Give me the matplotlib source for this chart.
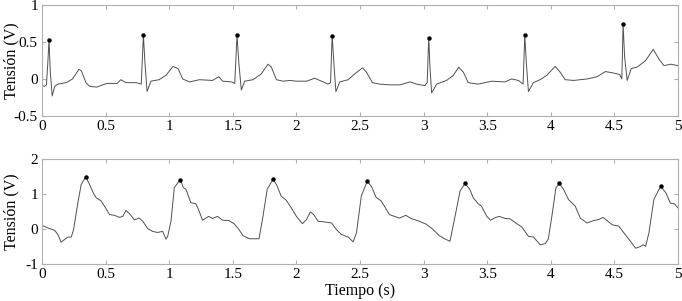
import matplotlib.pyplot as plt
import numpy as np

plt.rcParams['font.family'] = ['Liberation Serif', 'DejaVu Serif']
plt.rcParams['font.size'] = 11

# senal superior (ECG)
t_sup = [0.0, 0.02, 0.035, 0.045, 0.055, 0.065, 0.08, 0.1, 0.125, 0.19, 0.24, 0.29, 0.31, 0.345,
         0.375, 0.43, 0.51, 0.59, 0.62, 0.66, 0.685, 0.74, 0.78, 0.797, 0.81, 0.826,
         0.856, 0.92, 0.975, 1.03, 1.07, 1.106, 1.16, 1.238, 1.34, 1.39, 1.42, 1.49, 1.515,
         1.533, 1.548, 1.567, 1.593, 1.659, 1.724, 1.777, 1.803, 1.843, 1.895, 1.948, 2.0,
         2.079, 2.144, 2.184, 2.249, 2.268, 2.281, 2.295, 2.31, 2.341, 2.407, 2.459, 2.52,
         2.551, 2.598, 2.656, 2.735, 2.814, 2.892, 2.945, 3.01, 3.028, 3.04, 3.05, 3.063,
         3.102, 3.18, 3.234, 3.276, 3.313, 3.35, 3.429, 3.534, 3.639, 3.692, 3.745, 3.782,
         3.795, 3.808, 3.824, 3.863, 3.916, 3.968, 4.034, 4.074, 4.113, 4.179, 4.284, 4.363,
         4.429, 4.495, 4.542, 4.558, 4.568, 4.58, 4.6, 4.632, 4.679, 4.745, 4.805, 4.85,
         4.889, 4.942, 5.0]
v_sup = [-0.09, -0.1, -0.08, 0.2, 0.53, 0.1, -0.23, -0.1, -0.07, -0.05, 0.0, 0.13, 0.11, -0.05,
         -0.1, -0.11, -0.06, -0.06, -0.01, -0.05, -0.05, -0.05, -0.07, 0.59, 0.2, -0.17,
         -0.03, -0.01, 0.05, 0.17, 0.14, 0.0, -0.04, -0.01, -0.02, 0.03, -0.03, -0.04, -0.06,
         0.595, 0.2, -0.15, -0.03, -0.01, 0.07, 0.2, 0.16, -0.01, -0.03, -0.02, -0.03,
         -0.03, 0.01, -0.02, -0.07, -0.05, 0.586, 0.2, -0.17, -0.04, -0.01, 0.07, 0.15,
         0.09, -0.05, -0.07, -0.08, -0.08, -0.04, -0.07, -0.09, -0.05, 0.56, 0.15, -0.19,
         -0.07, -0.02, 0.05, 0.16, 0.09, -0.05, -0.07, -0.03, -0.04, 0.0, -0.02, -0.07,
         0.595, 0.2, -0.17, -0.05, -0.01, 0.05, 0.17, 0.09, -0.01, -0.02, 0.0, 0.03,
         0.1, 0.08, 0.06, 0.0, 0.745, 0.3, -0.02, 0.14, 0.16, 0.25, 0.4, 0.27,
         0.18, 0.2, 0.18]

t_sup_pico = [0.055, 0.797, 1.533, 2.281, 3.04, 3.795, 4.568]
v_sup_pico = [0.53, 0.59, 0.595, 0.586, 0.56, 0.595, 0.745]

# senal inferior
t_inf = [0.0, 0.06, 0.1, 0.125, 0.15, 0.178, 0.204, 0.23, 0.248, 0.282, 0.308, 0.342, 0.368,
         0.4, 0.426, 0.465, 0.5, 0.531, 0.57, 0.609, 0.635, 0.66, 0.687, 0.726, 0.765,
         0.792, 0.831, 0.87, 0.908, 0.948, 0.975, 0.988, 1.014, 1.04, 1.087, 1.111, 1.132,
         1.17, 1.209, 1.23, 1.262, 1.31, 1.34, 1.38, 1.419, 1.47, 1.51, 1.545, 1.579, 1.63,
         1.706, 1.737, 1.77, 1.816, 1.843, 1.88, 1.92, 1.96, 2.0, 2.047, 2.079, 2.11, 2.136,
         2.171, 2.223, 2.276, 2.315, 2.354, 2.407, 2.446, 2.472, 2.51, 2.556, 2.589, 2.627,
         2.666, 2.692, 2.731, 2.77, 2.81, 2.86, 2.9, 2.966, 3.018, 3.07, 3.122, 3.176,
         3.207, 3.247, 3.286, 3.325, 3.363, 3.39, 3.429, 3.455, 3.497, 3.526, 3.561, 3.595,
         3.639, 3.679, 3.732, 3.771, 3.824, 3.863, 3.916, 3.955, 3.98, 4.008, 4.04, 4.068,
         4.1, 4.139, 4.192, 4.232, 4.284, 4.337, 4.376, 4.41, 4.442, 4.482, 4.534, 4.574,
         4.626, 4.666, 4.705, 4.726, 4.745, 4.771, 4.81, 4.863, 4.905, 4.939, 4.97, 5.0]
v_inf = [0.1, 0.01, -0.04, -0.16, -0.38, -0.3, -0.23, -0.23, -0.02, 0.75, 1.27, 1.48, 1.32,
         1.05, 0.89, 0.8, 0.6, 0.41, 0.39, 0.33, 0.36, 0.53, 0.44, 0.26, 0.31, 0.22,
         0.01, -0.07, -0.1, -0.07, -0.29, -0.21, 0.22, 1.18, 1.41, 1.18, 1.13, 0.75, 0.72,
         0.56, 0.25, 0.36, 0.3, 0.36, 0.25, 0.24, 0.15, 0.0, -0.19, -0.28, -0.28, 0.36,
         1.13, 1.42, 1.27, 0.94, 0.82, 0.6, 0.36, 0.15, 0.27, 0.49, 0.41, 0.22, 0.2, 0.17,
         -0.02, -0.16, -0.23, -0.37, -0.11, 0.94, 1.36, 1.22, 0.9, 0.8, 0.65, 0.41, 0.36,
         0.31, 0.39, 0.3, 0.22, 0.14, 0.0, -0.19, -0.3, -0.35, 0.36, 1.08, 1.3, 1.13,
         0.89, 0.72, 0.65, 0.36, 0.25, 0.32, 0.36, 0.3, 0.29, 0.15, 0.06, -0.21, -0.23,
         -0.45, -0.42, -0.29, 0.36, 1.18, 1.3, 1.13, 0.84, 0.65, 0.31, 0.17, 0.24, 0.27,
         0.33, 0.24, 0.12, 0.08, -0.11, -0.35, -0.55, -0.5, -0.45, -0.5, -0.11, 0.84,
         1.22, 1.03, 0.74, 0.72, 0.6]

t_inf_pico = [0.342, 1.087, 1.816, 2.556, 3.325, 4.068, 4.863]
v_inf_pico = [1.48, 1.41, 1.42, 1.36, 1.3, 1.3, 1.22]

fig = plt.figure(figsize=(6.82, 3.01), dpi=100)
ax1 = fig.add_axes([0.0616, 0.615, 0.9326, 0.368])
ax2 = fig.add_axes([0.0616, 0.123, 0.9326, 0.349])

for ax in (ax1, ax2):
    ax.set_xlim(0, 5)
    ax.set_xticks(np.arange(0, 5.01, 0.5))
    ax.set_xticklabels(['0', '0.5', '1', '1.5', '2', '2.5', '3', '3.5', '4', '4.5', '5'])
    ax.tick_params(direction='in', top=True, right=True, length=3, color='#b0b0b0',
                   labelsize=11, pad=3)
    for s in ax.spines.values():
        s.set_color('#b0b0b0')
        s.set_linewidth(0.8)
    ax.set_ylabel('Tensión (V)', fontsize=11.5)
    ax.yaxis.set_label_coords(-0.036, 0.5)

ax1.plot(t_sup, v_sup, color='#505050', lw=0.7)
ax1.plot(t_sup_pico, v_sup_pico, 'o', color='black', ms=2.2)
ax1.set_ylim(-0.5, 1)
ax1.set_yticks([-0.5, 0, 0.5, 1])
ax1.set_yticklabels(['-0.5', '0', '0.5', '1'])

ax2.plot(t_inf, v_inf, color='#505050', lw=0.7)
ax2.plot(t_inf_pico, v_inf_pico, 'o', color='black', ms=2.2)
ax2.set_ylim(-1, 2)
ax2.set_yticks([-1, 0, 1, 2])
ax2.set_yticklabels(['-1', '0', '1', '2'])
ax2.set_xlabel('Tiempo (s)', fontsize=11.5, labelpad=1)

fig.savefig('out.png', dpi=100)
